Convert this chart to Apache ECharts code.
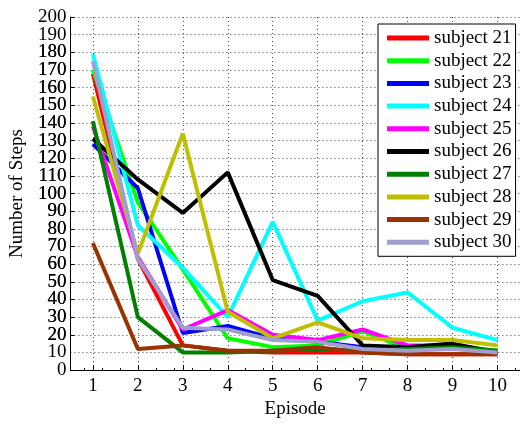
<!DOCTYPE html>
<html>
<head>
<meta charset="utf-8">
<script src="https://cdn.jsdelivr.net/npm/echarts@6/dist/echarts.min.js"></script>
<style>
  html, body { margin: 0; padding: 0; background: #fff; }
  #chart { width: 520px; height: 424px; }
</style>
</head>
<body>
<div id="chart"></div>
<script>
// Episodes 1..10 and the number of steps each subject needed
const episodes = [1, 2, 3, 4, 5, 6, 7, 8, 9, 10];
const subjectNames = ['subject 21', 'subject 22', 'subject 23', 'subject 24', 'subject 25',
                      'subject 26', 'subject 27', 'subject 28', 'subject 29', 'subject 30'];
const subject21 = [168, 63, 14, 11, 10, 10, 10, 9, 9, 9];
const subject22 = [170, 95, 57, 18, 13, 14, 22, 12, 14, 11];
const subject23 = [128, 103, 21, 25, 18, 16, 13, 12, 13, 10];
const subject24 = [179, 82, 58, 30, 84, 28, 39, 44, 24, 17];
const subject25 = [138, 64, 23, 34, 20, 17, 23, 14, 14, 10];
const subject26 = [131, 108, 89, 112, 51, 42, 14, 13, 15, 10];
const subject27 = [141, 30, 10, 10, 11, 12, 11, 12, 13, 11];
const subject28 = [155, 66, 134, 33, 18, 27, 18, 17, 17, 14];
const subject29 = [72, 12, 14, 11, 11, 13, 10, 9, 9, 9];
const subject30 = [175, 63, 24, 23, 17, 16, 12, 11, 12, 10];
const yTicks = { min: 0, max: 200, step: 10 };

const allSeries = [subject21, subject22, subject23, subject24, subject25,
                   subject26, subject27, subject28, subject29, subject30];
const colors = ['#ff0000', '#00ff00', '#0000ff', '#00ffff', '#ff00ff',
                '#000000', '#008000', '#bfbf00', '#993300', '#9f9fcf'];

const serif = 'Liberation Serif';
const labelFont = { fontFamily: serif, fontSize: 19, color: '#000' };
const chart = echarts.init(document.getElementById('chart'), null, { renderer: 'canvas' });

// The step labels sit 18px apart, closer than their text height, so even and
// odd labels are placed by two overlaid axes sharing one scale.
const yBase = {
  type: 'value',
  position: 'left',
  min: yTicks.min,
  max: yTicks.max,
  interval: yTicks.step
};

chart.setOption({
  animation: false,
  backgroundColor: '#ffffff',
  color: colors,
  grid: { left: 69.3, top: 17, width: 460, height: 360, containLabel: false },
  xAxis: {
    type: 'value',
    min: 0.5,
    max: 10.5,
    name: 'Episode',
    nameLocation: 'middle',
    nameGap: 29,
    nameTextStyle: labelFont,
    axisLine: { lineStyle: { color: '#000', width: 1 } },
    axisTick: { inside: true, length: 5, customValues: episodes, lineStyle: { color: '#000' } },
    minorTick: { show: true, splitNumber: 5, length: 2, lineStyle: { color: '#000' } },
    axisLabel: Object.assign({ margin: 6, customValues: episodes }, labelFont),
    splitLine: { show: true, lineStyle: { color: '#444', type: [1, 3], width: 1 } }
  },
  yAxis: [
    Object.assign({}, yBase, {
      name: 'Number of Steps',
      nameLocation: 'middle',
      nameGap: 27,
      nameTextStyle: labelFont,
      axisLine: { show: true, lineStyle: { color: '#000', width: 1 } },
      axisTick: { show: true, inside: true, length: 4, lineStyle: { color: '#000' } },
      axisLabel: Object.assign({
        margin: 4, showMinLabel: true, showMaxLabel: true,
        interval: (idx) => idx % 2 === 0
      }, labelFont),
      splitLine: { show: true, lineStyle: { color: '#444', type: [1, 3], width: 1 } }
    }),
    Object.assign({}, yBase, {
      axisLine: { show: false },
      axisTick: { show: false },
      splitLine: { show: false },
      axisLabel: Object.assign({
        margin: 4, showMinLabel: false, showMaxLabel: false,
        interval: (idx) => idx % 2 === 1
      }, labelFont)
    })
  ],
  legend: {
    orient: 'vertical',
    left: 378,
    top: 24,
    padding: [4, 4, 4, 9],
    itemGap: 2.7,
    itemWidth: 42,
    itemHeight: 5,
    icon: 'rect',
    backgroundColor: '#fff',
    borderColor: '#000',
    borderWidth: 1,
    borderRadius: 0,
    textStyle: Object.assign({ lineHeight: 20 }, labelFont),
    data: subjectNames
  },
  series: allSeries.map((vals, i) => ({
    name: subjectNames[i],
    type: 'line',
    symbol: 'none',
    yAxisIndex: 0,
    lineStyle: { width: 4, color: colors[i] },
    itemStyle: { color: colors[i] },
    data: episodes.map((e, j) => [e, vals[j]])
  }))
});
</script>
</body>
</html>
